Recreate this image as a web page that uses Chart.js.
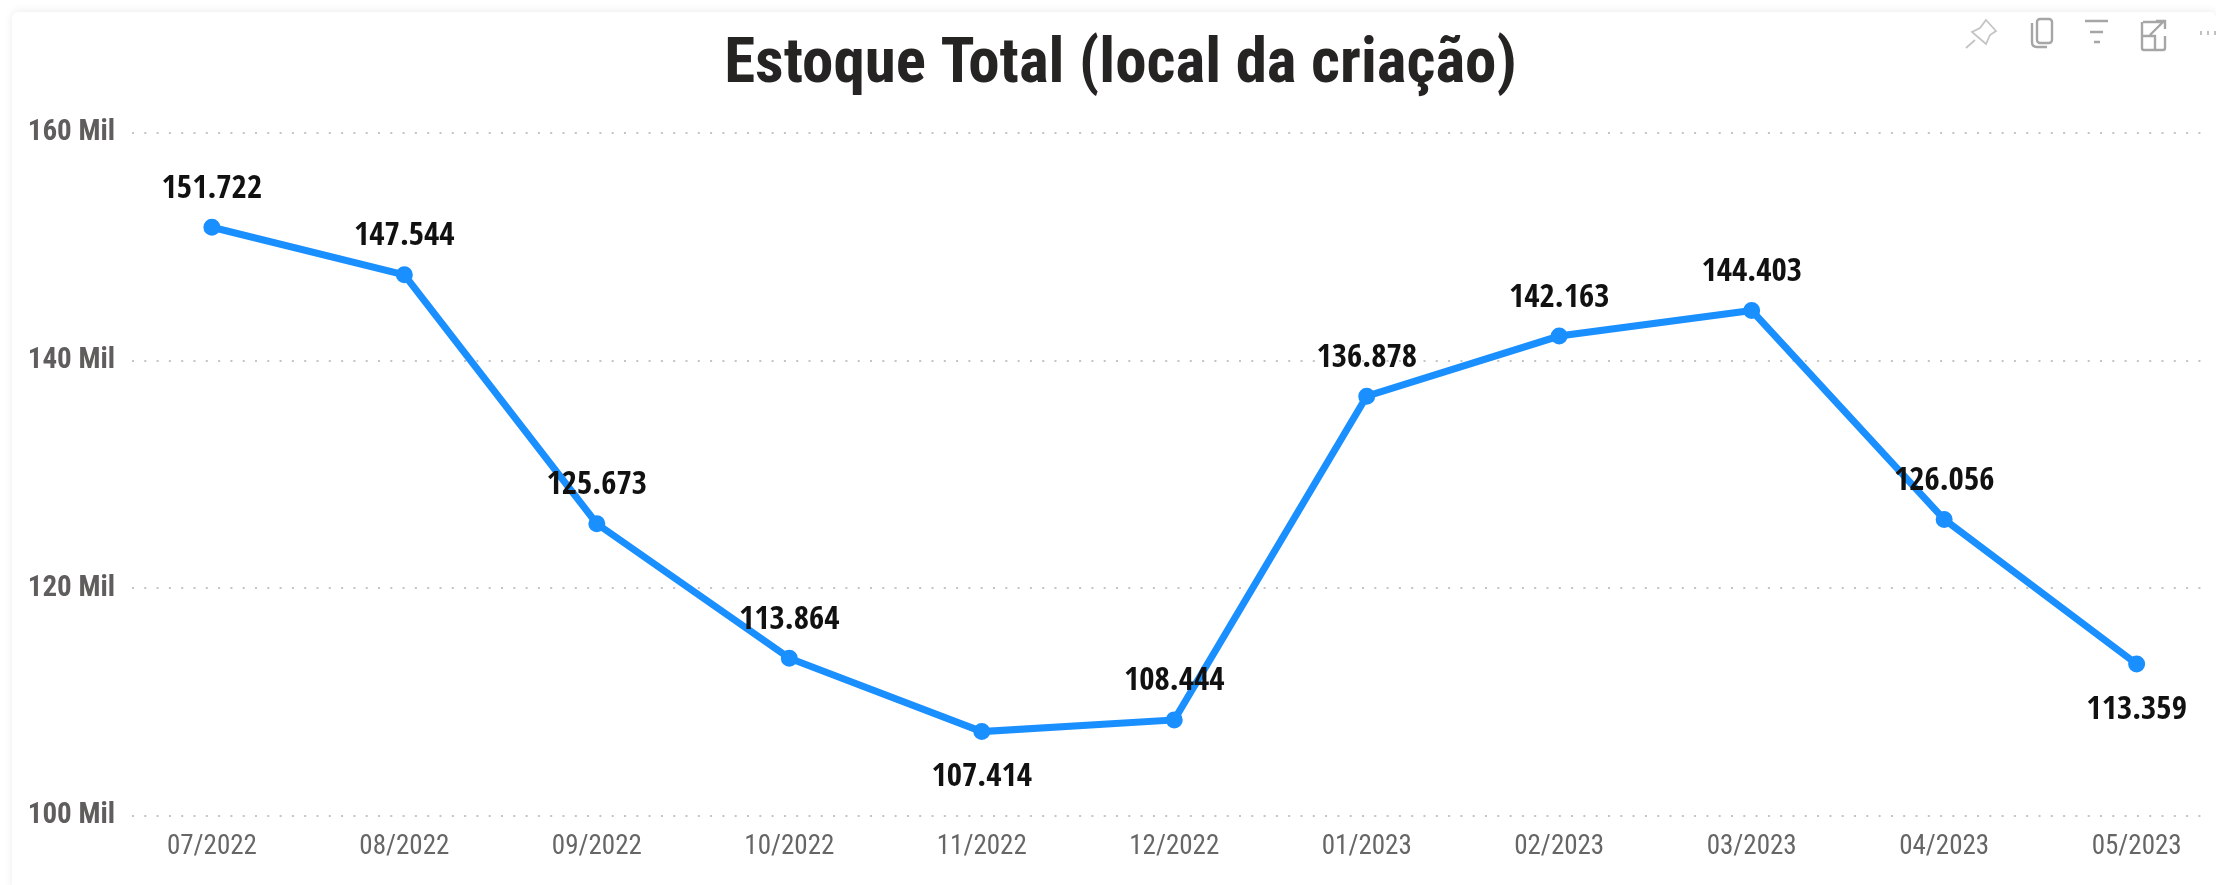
<!DOCTYPE html>
<html>
<head>
<meta charset="utf-8">
<title>Estoque Total (local da criação)</title>
<script src="https://cdn.jsdelivr.net/npm/chart.js@4"></script>
<style>
  html, body { margin: 0; padding: 0; background: #fff; overflow: hidden; }
  #wrap { position: relative; width: 2216px; height: 885px; }
  #card { position: absolute; left: 12px; top: 12px; width: 2204px; height: 880px; background: #fff;
          border-radius: 6px; box-shadow: 0 -1px 8px rgba(0,0,0,0.08); }
  #chartBox { position: absolute; left: 0; top: 0; width: 2216px; height: 885px; }
  #icons { position: absolute; left: 1960px; top: 14px; }
</style>
</head>
<body>
<div id="wrap">
  <div id="card"></div>
  <div id="chartBox"><canvas id="lineChart" width="2216" height="885"></canvas></div>
  <svg id="icons" width="256" height="44" fill="none" stroke="#a6a6a6" stroke-width="2.4">
    <path d="M26 6 L36 17 L30 21 L26 30 L12 18 L20 14 Z M15 26 L6 34" stroke="#c4c4c4" stroke-width="1.8"/>
    <rect x="77" y="5" width="15" height="24" rx="3"/>
    <path d="M72 9 V28 Q72 33 77 33 H87"/>
    <path d="M125 7 H148 M130 18 H143 M134 28 H140"/>
    <path d="M183 8 H205 M182 8 V34 Q182 36 184 36 H203 Q205 36 205 34 V22 M182 22 H195 V36 M190 21 L204 7 M196 7 H205 V15"/>
    <path d="M240 19 H242 M247 19 H249 M254 19 H256" stroke-width="4" stroke="#c0c0c0"/>
  </svg>
</div>
<script>
const chartTitle = "Estoque Total (local da criação)";
const months = ["07/2022", "08/2022", "09/2022", "10/2022", "11/2022", "12/2022", "01/2023", "02/2023", "03/2023", "04/2023", "05/2023"];
const stockValues = [151722, 147544, 125673, 113864, 107414, 108444, 136878, 142163, 144403, 126056, 113359];
const labelsBelow = ["11/2022", "05/2023"];

const narrowFont = "'Roboto Condensed', sans-serif";
const labelFont = "'Open Sans Condensed', 'Roboto Condensed', sans-serif";

// pt-BR style number, 151722 -> 151.722
let formatValue = (val) => val.toString().replace(/\B(?=(\d{3})+$)/g, ".");

const valueLabels = {
  id: "valueLabels",
  // title sits a bit right of the canvas centre in the original
  afterLayout(chart) {
    chart.titleBlock.left += 22;
  },
  afterDatasetsDraw(chart) {
    let ctx = chart.ctx;
    let points = chart.getDatasetMeta(0).data;
    ctx.save();
    ctx.font = "bold 33px " + labelFont;
    ctx.fillStyle = "#111111";
    ctx.textAlign = "center";
    ctx.textBaseline = "middle";
    points.forEach((pt, i) => {
      let offset = labelsBelow.includes(months[i]) ? 46 : -38;
      ctx.fillText(formatValue(stockValues[i]), pt.x, pt.y + offset);
    });
    ctx.restore();
  },
};

new Chart(document.getElementById("lineChart").getContext("2d"), {
  type: "line",
  data: {
    datasets: [
      {
        data: stockValues.map((val, i) => ({ x: i, y: val })),
        borderColor: "#1A8FFF",
        backgroundColor: "#1A8FFF",
        borderWidth: 7,
        pointRadius: 5,
        tension: 0,
      },
    ],
  },
  plugins: [valueLabels],
  options: {
    responsive: false,
    animation: false,
    layout: { padding: { left: 12, right: 9, top: 0, bottom: 0 } },
    plugins: {
      legend: { display: false },
      tooltip: { enabled: false },
      title: {
        display: true,
        text: chartTitle,
        color: "#252423",
        font: { family: narrowFont, size: 63, weight: "bold", lineHeight: 1 },
        padding: { top: 35, bottom: 35 },
      },
    },
    scales: {
      x: {
        type: "linear",
        min: -0.415,
        max: 10.35,
        afterBuildTicks: (scale) => {
          scale.ticks = months.map((_, i) => ({ value: i }));
        },
        afterFit: (scale) => {
          scale.height = 69;
        },
        grid: { display: false },
        border: { display: false },
        ticks: {
          autoSkip: false,
          maxRotation: 0,
          padding: 7,
          color: "#666666",
          font: { family: narrowFont, size: 27 },
          callback: (val) => months[val],
        },
      },
      y: {
        min: 100000,
        max: 160000,
        afterFit: (scale) => {
          scale.width = 120;
        },
        grid: {
          color: "#c4c4c4",
          lineWidth: 2,
          drawTicks: false,
        },
        border: { display: false, dash: [2, 10.3] },
        ticks: {
          stepSize: 20000,
          padding: 17,
          color: "#605E5C",
          font: { family: narrowFont, size: 29, weight: "bold" },
          callback: (val) => val / 1000 + " Mil",
        },
      },
    },
  },
});
</script>
</body>
</html>
